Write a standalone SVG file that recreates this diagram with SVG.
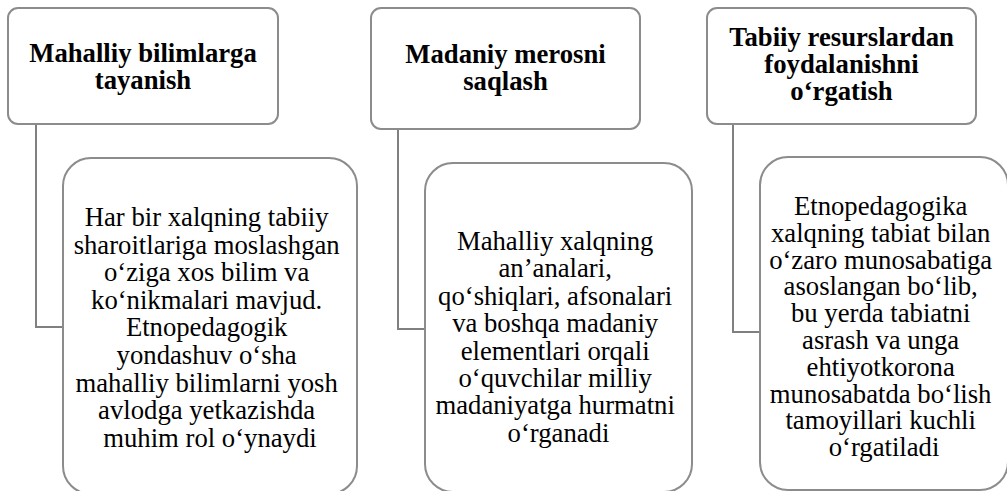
<svg xmlns="http://www.w3.org/2000/svg" width="1007" height="491" viewBox="0 0 1007 491">
<style>
.box{fill:#ffffff;stroke:#8c8c8c;stroke-width:2}
.conn{fill:none;stroke:#808080;stroke-width:2}
.title{font-family:'Liberation Serif','Times New Roman',serif;font-weight:bold;font-size:26.7px;fill:#000;text-anchor:middle}
.body{font-family:'Liberation Serif','Times New Roman',serif;font-size:26.7px;fill:#000;text-anchor:middle}
</style>
<rect width="1007" height="491" fill="#ffffff"/>
<g id="connectors">
<path class="conn" d="M36 124 V327 H63"/>
<path class="conn" d="M398 129 V329 H425"/>
<path class="conn" d="M733 124 V332 H760"/>
</g>
<g id="head1">
<rect class="box" x="8" y="8" width="270" height="116" rx="10"/>
<text class="title" x="143" y="62">Mahalliy bilimlarga</text>
<text class="title" x="143" y="89">tayanish</text>
</g>
<g id="head2">
<rect class="box" x="371" y="8" width="269" height="121" rx="10"/>
<text class="title" x="505.5" y="63">Madaniy merosni</text>
<text class="title" x="505.5" y="90">saqlash</text>
</g>
<g id="head3">
<rect class="box" x="707" y="8" width="269" height="116" rx="10"/>
<text class="title" x="841.5" y="46">Tabiiy resurslardan</text>
<text class="title" x="841.5" y="73">foydalanishni</text>
<text class="title" x="841.5" y="100">o‘rgatish</text>
</g>
<g id="child1">
<rect class="box" x="63" y="158" width="294" height="336" rx="28"/>
<text class="body">
<tspan x="210" y="226">Har bir xalqning tabiiy</tspan>
<tspan x="210" y="253.6">sharoitlariga moslashgan</tspan>
<tspan x="210" y="281.2">o‘ziga xos bilim va</tspan>
<tspan x="210" y="308.8">ko‘nikmalari mavjud.</tspan>
<tspan x="210" y="336.4">Etnopedagogik</tspan>
<tspan x="210" y="364">yondashuv o‘sha</tspan>
<tspan x="210" y="391.6">mahalliy bilimlarni yosh</tspan>
<tspan x="210" y="419.2">avlodga yetkazishda</tspan>
<tspan x="210" y="446.8">muhim rol o‘ynaydi</tspan>
</text>
</g>
<g id="child2">
<rect class="box" x="425" y="163" width="267" height="329" rx="28"/>
<text class="body">
<tspan x="558.5" y="250">Mahalliy xalqning</tspan>
<tspan x="558.5" y="277.4">an’analari,</tspan>
<tspan x="558.5" y="304.8">qo‘shiqlari, afsonalari</tspan>
<tspan x="558.5" y="332.2">va boshqa madaniy</tspan>
<tspan x="558.5" y="359.6">elementlari orqali</tspan>
<tspan x="558.5" y="387">o‘quvchilar milliy</tspan>
<tspan x="558.5" y="414.4">madaniyatga hurmatni</tspan>
<tspan x="558.5" y="441.8">o‘rganadi</tspan>
</text>
</g>
<g id="child3">
<rect class="box" x="760" y="157" width="248" height="333" rx="28"/>
<text class="body">
<tspan x="884" y="215">Etnopedagogika</tspan>
<tspan x="884" y="241.8">xalqning tabiat bilan</tspan>
<tspan x="884" y="268.6">o‘zaro munosabatiga</tspan>
<tspan x="884" y="295.4">asoslangan bo‘lib,</tspan>
<tspan x="884" y="322.2">bu yerda tabiatni</tspan>
<tspan x="884" y="349">asrash va unga</tspan>
<tspan x="884" y="375.8">ehtiyotkorona</tspan>
<tspan x="884" y="402.6">munosabatda bo‘lish</tspan>
<tspan x="884" y="429.4">tamoyillari kuchli</tspan>
<tspan x="884" y="456.2">o‘rgatiladi</tspan>
</text>
</g>
</svg>
